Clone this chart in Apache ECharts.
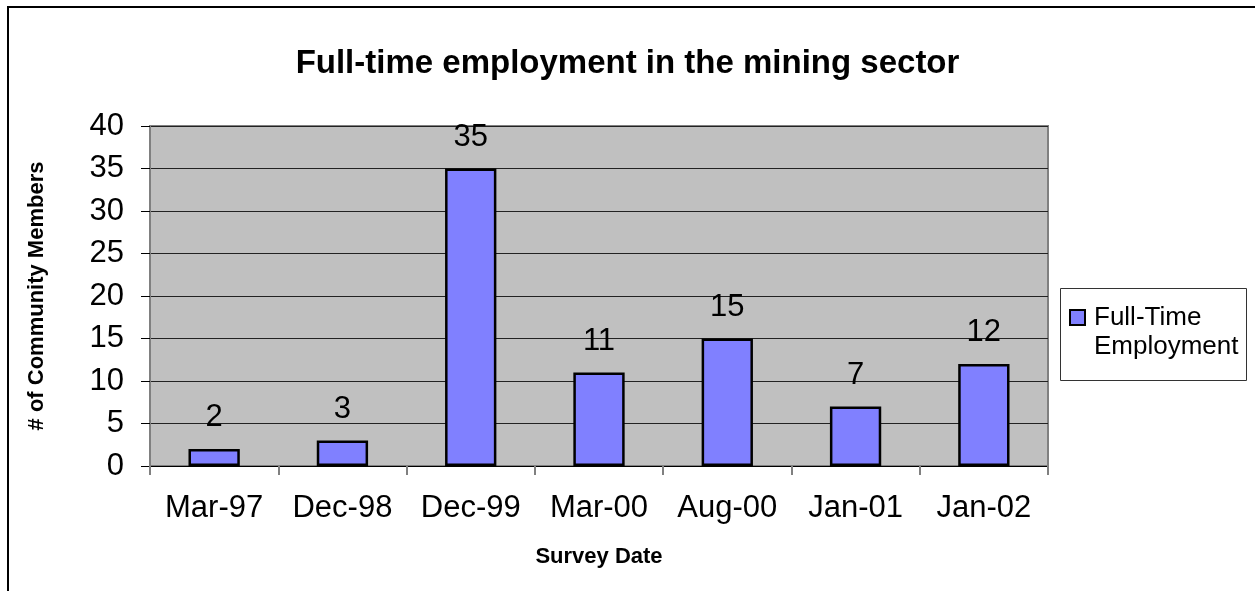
<!DOCTYPE html>
<html>
<head>
<meta charset="utf-8">
<script src="https://cdn.jsdelivr.net/npm/echarts@6/dist/echarts.min.js"></script>
<style>
  html, body { margin: 0; padding: 0; background: #ffffff; }
  #chart { width: 1255px; height: 591px; }
</style>
</head>
<body>
<div id="chart"></div>
<script>
// Survey dates and full-time mining employment counts
const surveyDates = ['Mar-97', 'Dec-98', 'Dec-99', 'Mar-00', 'Aug-00', 'Jan-01', 'Jan-02'];
const fullTimeEmployment = [2, 3, 35, 11, 15, 7, 12];
const seriesName = 'Full-Time Employment';

const FONT = '"Liberation Sans", Arial, sans-serif';

const chart = echarts.init(document.getElementById('chart'), null, { renderer: 'canvas' });

chart.setOption({
  backgroundColor: '#ffffff',
  animation: false,
  title: {
    text: 'Full-time employment in the mining sector',
    left: 'center',
    top: 42,
    textStyle: { fontFamily: FONT, fontSize: 33, fontWeight: 'bold', color: '#000' }
  },
  // legend entry; a leading blank line puts "Full-Time" level with the swatch
  legend: {
    data: [seriesName],
    orient: 'vertical',
    icon: 'rect',
    left: 1069,
    top: 274,
    padding: 0,
    itemWidth: 15,
    itemHeight: 15,
    itemGap: 0,
    selectedMode: false,
    formatter: function () { return '\nFull-Time\nEmployment'; },
    textStyle: {
      fontFamily: FONT, fontSize: 26, color: '#000', lineHeight: 29,
      padding: [0, 0, 0, 4]
    },
    itemStyle: { borderColor: '#000', borderWidth: 2 }
  },
  grid: {
    left: 150, right: 207, top: 126, bottom: 125,
    show: true,
    backgroundColor: '#c0c0c0',
    borderColor: '#808080',
    borderWidth: 2
  },
  xAxis: {
    type: 'category',
    data: surveyDates,
    name: 'Survey Date',
    nameLocation: 'middle',
    nameGap: 80,
    nameTextStyle: { fontFamily: FONT, fontSize: 22, fontWeight: 'bold', color: '#000' },
    axisLine: { show: true, lineStyle: { color: '#000', width: 1 } },
    axisTick: { show: true, alignWithLabel: false, interval: 0, length: 9, lineStyle: { color: '#808080', width: 2 } },
    axisLabel: { fontFamily: FONT, fontSize: 31, color: '#000', margin: 27, interval: 0, hideOverlap: false }
  },
  yAxis: {
    type: 'value',
    min: 0,
    max: 40,
    interval: 5,
    name: '# of Community Members',
    nameLocation: 'middle',
    nameGap: 102,
    nameRotate: 90,
    nameTextStyle: { fontFamily: FONT, fontSize: 22, fontWeight: 'bold', color: '#000' },
    axisLine: { show: true, lineStyle: { color: '#808080', width: 2 } },
    axisTick: { show: true, length: 9, lineStyle: { color: '#000', width: 1 } },
    axisLabel: { fontFamily: FONT, fontSize: 31, color: '#000', margin: 26 },
    splitLine: { show: true, lineStyle: { color: '#222', width: 1 } }
  },
  series: [{
    name: seriesName,
    type: 'bar',
    data: fullTimeEmployment,
    barWidth: '40%',
    itemStyle: { color: '#8080ff', borderColor: '#000', borderWidth: 2.5 },
    label: {
      show: true,
      position: 'top',
      distance: 16,
      fontFamily: FONT,
      fontSize: 31,
      color: '#000'
    }
  }],
  graphic: [
    {
      // outer chart frame
      type: 'rect',
      silent: true,
      z: -10,
      shape: { x: 8, y: 7, width: 1400, height: 800 },
      style: { fill: 'none', stroke: '#000', lineWidth: 2 }
    },
    {
      // legend frame
      type: 'rect',
      silent: true,
      z: -5,
      shape: { x: 1060.5, y: 288.5, width: 186, height: 92 },
      style: { fill: '#ffffff', stroke: '#333', lineWidth: 1 }
    }
  ]
});
</script>
</body>
</html>
